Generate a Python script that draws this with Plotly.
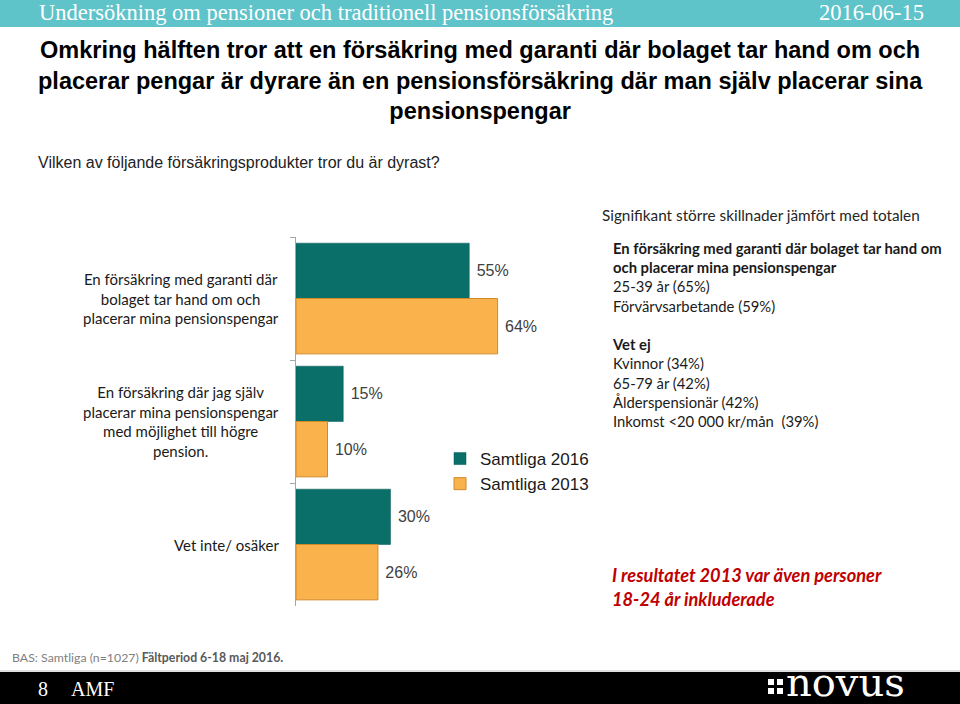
import plotly.graph_objects as go

W, H = 960, 704

categories = [
    "En försäkring med garanti där<br>bolaget tar hand om och<br>placerar mina pensionspengar",
    "En försäkring där jag själv<br>placerar mina pensionspengar<br>med möjlighet till högre<br>pension.",
    "Vet inte/ osäker",
]
series_names = ["Samtliga 2016", "Samtliga 2013"]
values_2016 = [55, 15, 30]
values_2013 = [64, 10, 26]

header_text = "Undersökning om pensioner och traditionell pensionsförsäkring"
header_date = "2016-06-15"
title_text = ("<b>Omkring hälften tror att en försäkring med garanti där bolaget tar hand om och<br>"
              "placerar pengar är dyrare än en pensionsförsäkring där man själv placerar sina<br>"
              "pensionspengar</b>")
question_text = "Vilken av följande försäkringsprodukter tror du är dyrast?"
signif_header = "Signifikant större skillnader jämfört med totalen"
signif_lines = [
    "<b>En försäkring med garanti där bolaget tar hand om</b>",
    "<b>och placerar mina pensionspengar</b>",
    "25-39 år (65%)",
    "Förvärvsarbetande (59%)",
    "",
    "<b>Vet ej</b>",
    "Kvinnor (34%)",
    "65-79 år (42%)",
    "Ålderspensionär (42%)",
    "Inkomst <20 000 kr/mån  (39%)",
]
note_text = "<b><i>I resultatet 2013 var även personer<br>18-24 år inkluderade</i></b>"
base_text = ("<span style='color:#808080'>BAS: Samtliga (n=1027) </span>"
             "<b><span style='color:#595959'>Fältperiod 6-18 maj 2016.</span></b>")

TEAL = "#0A6E69"
ORANGE = "#FAB24C"
ORANGE_LINE = "#D08A2A"

def px(x):
    return x / W

def py(y):
    return 1 - y / H

fig = go.Figure()
fig.add_trace(go.Bar(
    y=categories, x=values_2016, orientation="h", name=series_names[0],
    marker=dict(color=TEAL, line=dict(color="#075a56", width=0.5)),
    texttemplate="\u00a0%{x}%", textposition="outside",
    textfont=dict(family="Liberation Sans, Arial", size=16, color="#404040"),
    cliponaxis=False,
))
fig.add_trace(go.Bar(
    y=categories, x=values_2013, orientation="h", name=series_names[1],
    marker=dict(color=ORANGE, line=dict(color=ORANGE_LINE, width=1)),
    texttemplate="\u00a0%{x}%", textposition="outside",
    textfont=dict(family="Liberation Sans, Arial", size=16, color="#404040"),
    cliponaxis=False,
))

shapes = [
    dict(type="rect", xref="paper", yref="paper", x0=0, x1=1, y0=py(27), y1=1,
         fillcolor="#5FC3CA", line=dict(width=0), layer="below"),
    dict(type="line", xref="paper", yref="paper", x0=0, x1=1, y0=py(671), y1=py(671),
         line=dict(color="#BFBFBF", width=1)),
    dict(type="rect", xref="paper", yref="paper", x0=0, x1=1, y0=0, y1=py(672),
         fillcolor="#000000", line=dict(width=0)),
]
for cx in (768, 777):
    for cy in (679, 688):
        shapes.append(dict(type="rect", xref="paper", yref="paper",
                           x0=px(cx), x1=px(cx + 6), y0=py(cy + 6), y1=py(cy),
                           fillcolor="white", line=dict(width=0)))

annotations = [
    dict(text=header_text, x=px(37), y=py(13), xref="paper", yref="paper",
         xanchor="left", yanchor="middle", showarrow=False,
         font=dict(family="Liberation Serif, Times New Roman", size=22.5, color="white")),
    dict(text=header_date, x=px(926), y=py(13), xref="paper", yref="paper",
         xanchor="right", yanchor="middle", showarrow=False,
         font=dict(family="Liberation Serif, Times New Roman", size=22.5, color="white")),
    dict(text=title_text, x=0.5, y=py(80), xref="paper", yref="paper",
         xanchor="center", yanchor="middle", showarrow=False, align="center",
         font=dict(family="Liberation Sans, Arial", size=23.5, color="#000000")),
    dict(text=question_text, x=px(36), y=py(162), xref="paper", yref="paper",
         xanchor="left", yanchor="middle", showarrow=False,
         font=dict(family="Liberation Sans, Arial", size=16, color="#222222")),
    dict(text=signif_header, x=px(600), y=py(215), xref="paper", yref="paper",
         xanchor="left", yanchor="middle", showarrow=False,
         font=dict(family="Lato", size=15.3, color="#262626")),
    dict(text="<br>".join(signif_lines), x=px(610), y=py(237), xref="paper", yref="paper",
         xanchor="left", yanchor="top", showarrow=False, align="left",
         font=dict(family="Lato", size=14.8, color="#1a1a1a")),
    dict(text=note_text, x=px(610), y=py(587), xref="paper", yref="paper",
         xanchor="left", yanchor="middle", showarrow=False, align="left",
         font=dict(family="Lato", size=18.2, color="#C00000")),
    dict(text=base_text, x=px(10), y=py(657), xref="paper", yref="paper",
         xanchor="left", yanchor="middle", showarrow=False,
         font=dict(family="Lato", size=12.3)),
    dict(text="8", x=px(36), y=py(689), xref="paper", yref="paper",
         xanchor="left", yanchor="middle", showarrow=False,
         font=dict(family="Liberation Serif", size=20, color="white")),
    dict(text="AMF", x=px(69), y=py(689), xref="paper", yref="paper",
         xanchor="left", yanchor="middle", showarrow=False,
         font=dict(family="Liberation Serif", size=20, color="white")),
    dict(text="novus", x=px(784), y=py(682), xref="paper", yref="paper",
         xanchor="left", yanchor="middle", showarrow=False,
         font=dict(family="DejaVu Serif", size=40, color="white")),
]
for cat in categories:
    annotations.append(dict(text=cat, x=px(281), y=cat, xref="paper", yref="y",
                            xanchor="right", yanchor="middle", showarrow=False, align="center",
                            font=dict(family="Lato", size=15, color="#1a1a1a")))

fig.update_layout(
    width=W, height=H,
    margin=dict(l=0, r=0, t=0, b=0),
    paper_bgcolor="white", plot_bgcolor="white",
    barmode="group", bargap=0.1, bargroupgap=0,
    showlegend=True,
    legend=dict(x=px(440), y=py(441), xanchor="left", yanchor="top",
                font=dict(family="Liberation Sans, Arial", size=17, color="#1a1a1a"),
                bgcolor="rgba(0,0,0,0)", traceorder="normal", tracegroupgap=0),
    xaxis=dict(domain=[px(296), px(611)], range=[0, 100], visible=False, fixedrange=True),
    yaxis=dict(domain=[py(606), py(237)], categoryorder="array", categoryarray=categories,
               autorange="reversed", showticklabels=False, showline=True,
               linecolor="#A6A6A6", linewidth=1, ticks="outside", ticklen=5,
               tickcolor="#A6A6A6", tickson="boundaries", showgrid=False, zeroline=False),
    shapes=shapes, annotations=annotations,
)

fig.write_html("out.html", config={"displayModeBar": False},
               post_script="document.body.style.margin='0';document.body.style.overflow='hidden';")
